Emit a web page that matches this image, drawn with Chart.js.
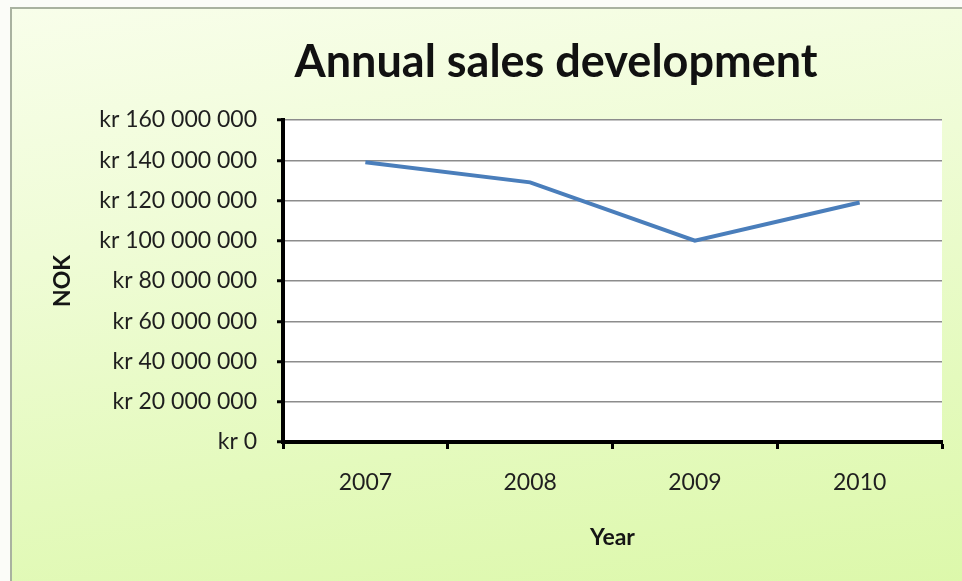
<!DOCTYPE html>
<html>
<head>
<meta charset="utf-8">
<script src="https://cdn.jsdelivr.net/npm/chart.js@4"></script>
<style>
  html, body { margin: 0; padding: 0; width: 962px; height: 581px; overflow: hidden; background: #fbfcf8; }
  #frame {
    position: absolute; left: 10px; top: 7px; width: 960px; height: 580px;
    border-top: 2px solid #a9b2a0; border-left: 2px solid #a9b2a0;
    background: linear-gradient(172deg, #f8feea 0%, #effcd6 35%, #e4fabd 70%, #dcf8aa 100%);
  }
  #chart { position: absolute; left: 0; top: 0; }
</style>
</head>
<body>
<div id="frame"></div>
<canvas id="chart" width="962" height="581"></canvas>
<script>
var years = ['2007', '2008', '2009', '2010'];
var sales = [139000000, 129000000, 100000000, 119000000];
var yMin = 0;
var yMax = 160000000;
var yStep = 20000000;

var FONT = 'Lato, "Open Sans", sans-serif';

function kr(v) {
    return 'kr ' + String(v).replace(/\B(?=(\d{3})+(?!\d))/g, ' ');
}

// white plot area + the big title above it
var plotBackground = {
    id: 'plotBackground',
    beforeDraw: function(chart) {
        var a = chart.chartArea, ctx = chart.ctx;
        ctx.save();
        ctx.fillStyle = '#ffffff';
        ctx.fillRect(a.left, a.top, a.right - a.left, a.bottom - a.top);
        ctx.restore();
    },
    afterDraw: function(chart) {
        var ctx = chart.ctx;
        ctx.save();
        ctx.font = 'bold 45px ' + FONT;
        ctx.fillStyle = '#111111';
        ctx.textAlign = 'center';
        ctx.textBaseline = 'middle';
        ctx.fillText('Annual sales development', 556, 62);
        ctx.restore();
    }
};

var ctx = document.getElementById('chart').getContext('2d');
var chart = new Chart(ctx, {
    type: 'line',
    data: {
        labels: years,
        datasets: [{
            label: 'Sales',
            data: sales,
            borderColor: '#4a7ebb',
            borderWidth: 4,
            pointRadius: 0,
            tension: 0,
            fill: false
        }]
    },
    options: {
        responsive: false,
        animation: false,
        layout: { padding: { left: 12, top: 120, right: 20, bottom: 0 } },
        plugins: {
            legend: { display: false },
            tooltip: { enabled: false }
        },
        scales: {
            x: {
                offset: true,
                afterFit: function(scale) { scale.height = 139; },
                grid: {
                    display: true,
                    offset: true,
                    drawOnChartArea: false,
                    tickLength: 7,
                    tickColor: '#000000',
                    tickWidth: 3
                },
                border: { color: '#000000', width: 4 },
                ticks: {
                    padding: 20,
                    color: '#1f1f1f',
                    font: { family: FONT, size: 23 }
                },
                title: {
                    display: true,
                    text: 'Year',
                    color: '#151515',
                    padding: { top: 0, bottom: 30 },
                    font: { family: FONT, size: 23, weight: 'bold' }
                }
            },
            y: {
                min: yMin,
                max: yMax,
                afterFit: function(scale) { scale.width = 271; },
                grid: {
                    color: '#8c8c8c',
                    lineWidth: 1.5,
                    tickLength: 6,
                    tickColor: '#000000',
                    tickWidth: 3
                },
                border: { color: '#000000', width: 4 },
                ticks: {
                    stepSize: yStep,
                    padding: 20,
                    color: '#1f1f1f',
                    font: { family: FONT, size: 23 },
                    callback: function(v) { return kr(v); }
                },
                title: {
                    display: true,
                    text: 'NOK',
                    color: '#151515',
                    padding: { top: 37, bottom: 0 },
                    font: { family: FONT, size: 23, weight: 'bold' }
                }
            }
        }
    },
    plugins: [plotBackground]
});
</script>
</body>
</html>
